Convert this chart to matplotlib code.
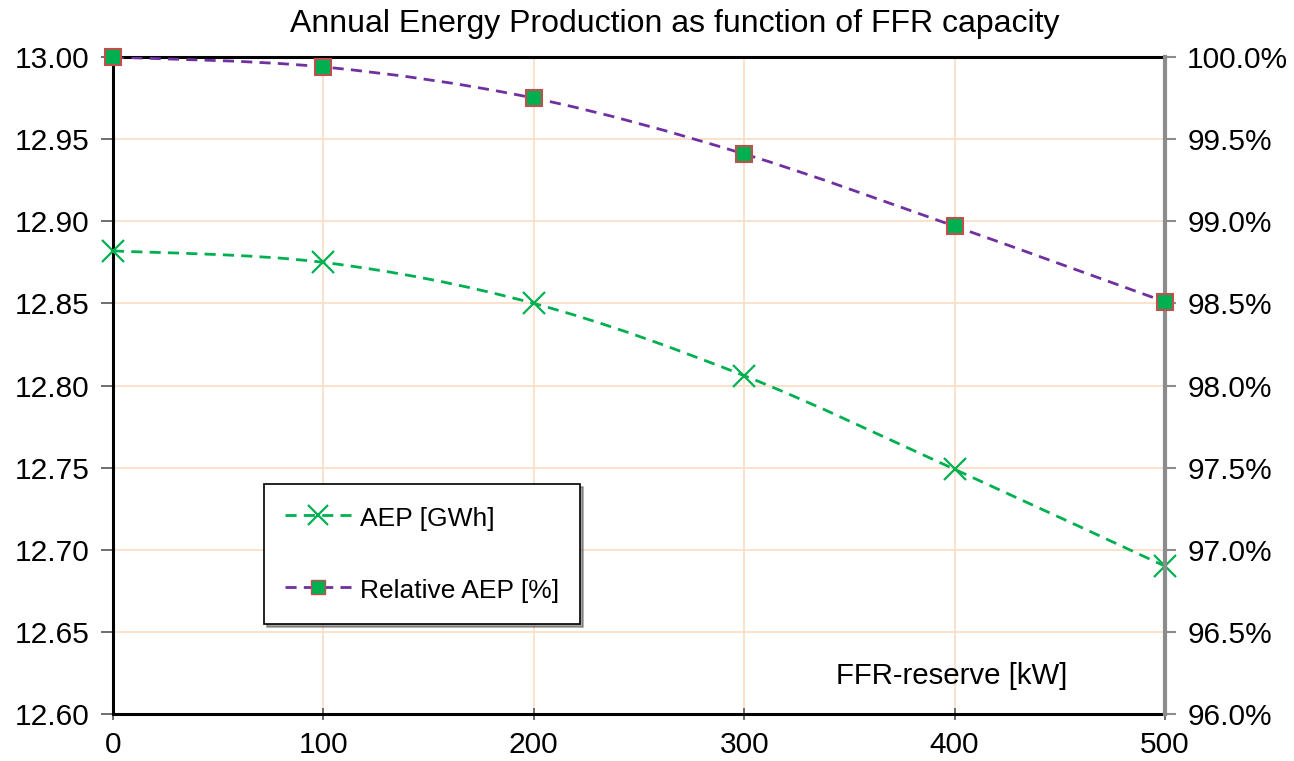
import numpy as np
import matplotlib
matplotlib.use("Agg")
import matplotlib.pyplot as plt
from matplotlib.path import Path
from matplotlib.patches import PathPatch
from matplotlib.lines import Line2D
from matplotlib.ticker import FuncFormatter

plt.rcParams['font.family'] = ['Liberation Sans', 'DejaVu Sans']

ffr_kw = [0, 100, 200, 300, 400, 500]
aep_gwh = [12.882, 12.875, 12.850, 12.806, 12.749, 12.690]
relative_aep = [100.0, 99.94, 99.75, 99.41, 98.97, 98.51]

GREEN = '#00B050'
PURPLE = '#7030A0'
RED_EDGE = '#C0504D'
GRID = '#FBDDC4'
DASH = (0, (4, 2.6))


def smooth_path(x, y, tension=1 / 6):
    # Catmull-Rom style bezier through the points (spreadsheet "smoothed line")
    x = np.asarray(x, float)
    y = np.asarray(y, float)
    verts = [(x[0], y[0])]
    codes = [Path.MOVETO]
    n = len(x)
    for i in range(n - 1):
        p0 = (x[max(i - 1, 0)], y[max(i - 1, 0)])
        p1 = (x[i], y[i])
        p2 = (x[i + 1], y[i + 1])
        p3 = (x[min(i + 2, n - 1)], y[min(i + 2, n - 1)])
        c1 = (p1[0] + (p2[0] - p0[0]) * tension, p1[1] + (p2[1] - p0[1]) * tension)
        c2 = (p2[0] - (p3[0] - p1[0]) * tension, p2[1] - (p3[1] - p1[1]) * tension)
        verts += [c1, c2, p2]
        codes += [Path.CURVE4] * 3
    return Path(verts, codes)


fig = plt.figure(figsize=(12.94, 7.61), dpi=100)
ax = fig.add_axes([0.0873, 0.0618, 0.8130, 0.8632])
ax2 = ax.twinx()

ax.set_xlim(0, 500)
ax.set_ylim(12.60, 13.00)
ax2.set_ylim(96.0, 100.0)

ax.set_xticks(ffr_kw)
ax.set_yticks(np.arange(12.60, 13.001, 0.05))
ax.yaxis.set_major_formatter(FuncFormatter(lambda v, p: f'{v:.2f}'))
ax2.set_yticks(np.arange(96.0, 100.01, 0.5))
ax2.yaxis.set_major_formatter(FuncFormatter(lambda v, p: f'{v:.1f}%'))

ax.grid(True, color=GRID, linewidth=1.2, zorder=0)
ax.set_axisbelow(True)

for side in ['left', 'top', 'bottom']:
    ax.spines[side].set_linewidth(2.2)
    ax.spines[side].set_color('black')
ax.spines['right'].set_visible(False)
for side in ['left', 'top', 'bottom']:
    ax2.spines[side].set_visible(False)
ax2.spines['right'].set_linewidth(3)
ax2.spines['right'].set_color('#8C8C8C')

ax.tick_params(axis='both', labelsize=21.5, length=9, width=1.2, color='#555555')
ax.tick_params(axis='x', direction='inout', pad=8)
ax.tick_params(axis='y', direction='out', pad=8)
ax2.tick_params(axis='y', labelsize=21.5, length=8, width=1.5, color='#8C8C8C',
                direction='out', pad=8)

# AEP curve (left axis)
ax.add_patch(PathPatch(smooth_path(ffr_kw, aep_gwh), fill=False, edgecolor=GREEN,
                       linewidth=2, linestyle=DASH, zorder=3))
ax.plot(ffr_kw, aep_gwh, linestyle='none', marker='x', markersize=16,
        markeredgewidth=1.6, color=GREEN, clip_on=False, zorder=4)

# Relative AEP curve (right axis)
ax2.add_patch(PathPatch(smooth_path(ffr_kw, relative_aep), fill=False, edgecolor=PURPLE,
                        linewidth=2, linestyle=DASH, zorder=3))
ax2.plot(ffr_kw, relative_aep, linestyle='none', marker='s', markersize=11,
         markerfacecolor=GREEN, markeredgecolor=RED_EDGE, markeredgewidth=1.5,
         clip_on=False, zorder=4)

ax.set_title('Annual Energy Production as function of FFR capacity', fontsize=23,
             pad=18, x=0.534)
ax.text(0.797, 0.058, 'FFR-reserve [kW]', transform=ax.transAxes, fontsize=21.2,
        ha='center', va='center')

handles = [
    Line2D([], [], color=GREEN, linestyle=DASH, linewidth=2, marker='x',
           markersize=14, markeredgewidth=1.6),
    Line2D([], [], color=PURPLE, linestyle=DASH, linewidth=2, marker='s',
           markersize=10, markerfacecolor=GREEN, markeredgecolor=RED_EDGE),
]
leg = ax2.legend(handles, ['AEP [GWh]', 'Relative AEP [%]'], loc='lower left',
                 bbox_to_anchor=(0.1435, 0.137), fontsize=19, frameon=True,
                 fancybox=False, shadow=True, edgecolor='black', framealpha=1,
                 handlelength=2.5, handleheight=1.0, labelspacing=1.75, borderpad=0.8,
                 handletextpad=0.35, borderaxespad=0)
leg.get_frame().set_linewidth(1.2)

fig.savefig('out.png', dpi=100)
